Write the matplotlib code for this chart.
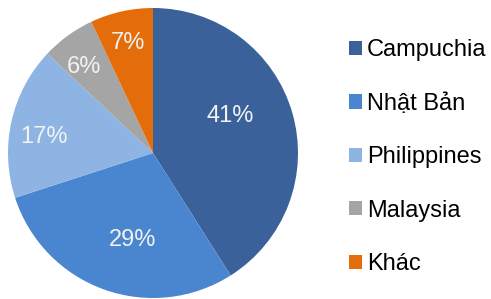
import numpy as np
import matplotlib.pyplot as plt
from matplotlib.patches import Patch
plt.switch_backend('agg')

labels = ["Campuchia", "Nhật Bản", "Philippines", "Malaysia", "Khác"]
shares = [41, 29, 17, 6, 7]
colors = ["#3a6199", "#4a86cf", "#8db4e2", "#a5a5a5", "#e46c0a"]
label_radius = [0.59, 0.62, 0.76, 0.76, 0.78]
label_turn = [9.5, 6.4, 4, 2.5, 0]  # degrees, labels sit a bit off the wedge middle

plt.rcParams['font.family'] = ['Liberation Sans', 'DejaVu Sans']

fig = plt.figure(figsize=(4.91, 2.99), dpi=100)
cx, cy, r = 153, 153, 145
ax = fig.add_axes([(cx - r) / 491, (299 - cy - r) / 299, 2 * r / 491, 2 * r / 299])

wedges, _ = ax.pie(shares, colors=colors, startangle=90, counterclock=False,
                   radius=1, wedgeprops=dict(linewidth=0))
ax.set_xlim(-1, 1)
ax.set_ylim(-1, 1)
ax.set_aspect('equal')
ax.axis('off')

for w, v, d, t in zip(wedges, shares, label_radius, label_turn):
    mid = np.deg2rad((w.theta1 + w.theta2) / 2 + t)
    ax.text(d * np.cos(mid), d * np.sin(mid), f"{v}%", ha='center', va='center',
            color='#f2f2f2', fontsize=17)

handles = [Patch(facecolor=c, edgecolor='none') for c in colors]
fig.legend(handles, labels, loc='upper left', bbox_to_anchor=(340 / 491, 1 - 30 / 299),
           frameon=False, fontsize=17, handlelength=0.55, handleheight=0.55,
           handletextpad=0.2, labelspacing=1.33, borderaxespad=0)

fig.savefig("out.png", dpi=100)
plt.close(fig)
